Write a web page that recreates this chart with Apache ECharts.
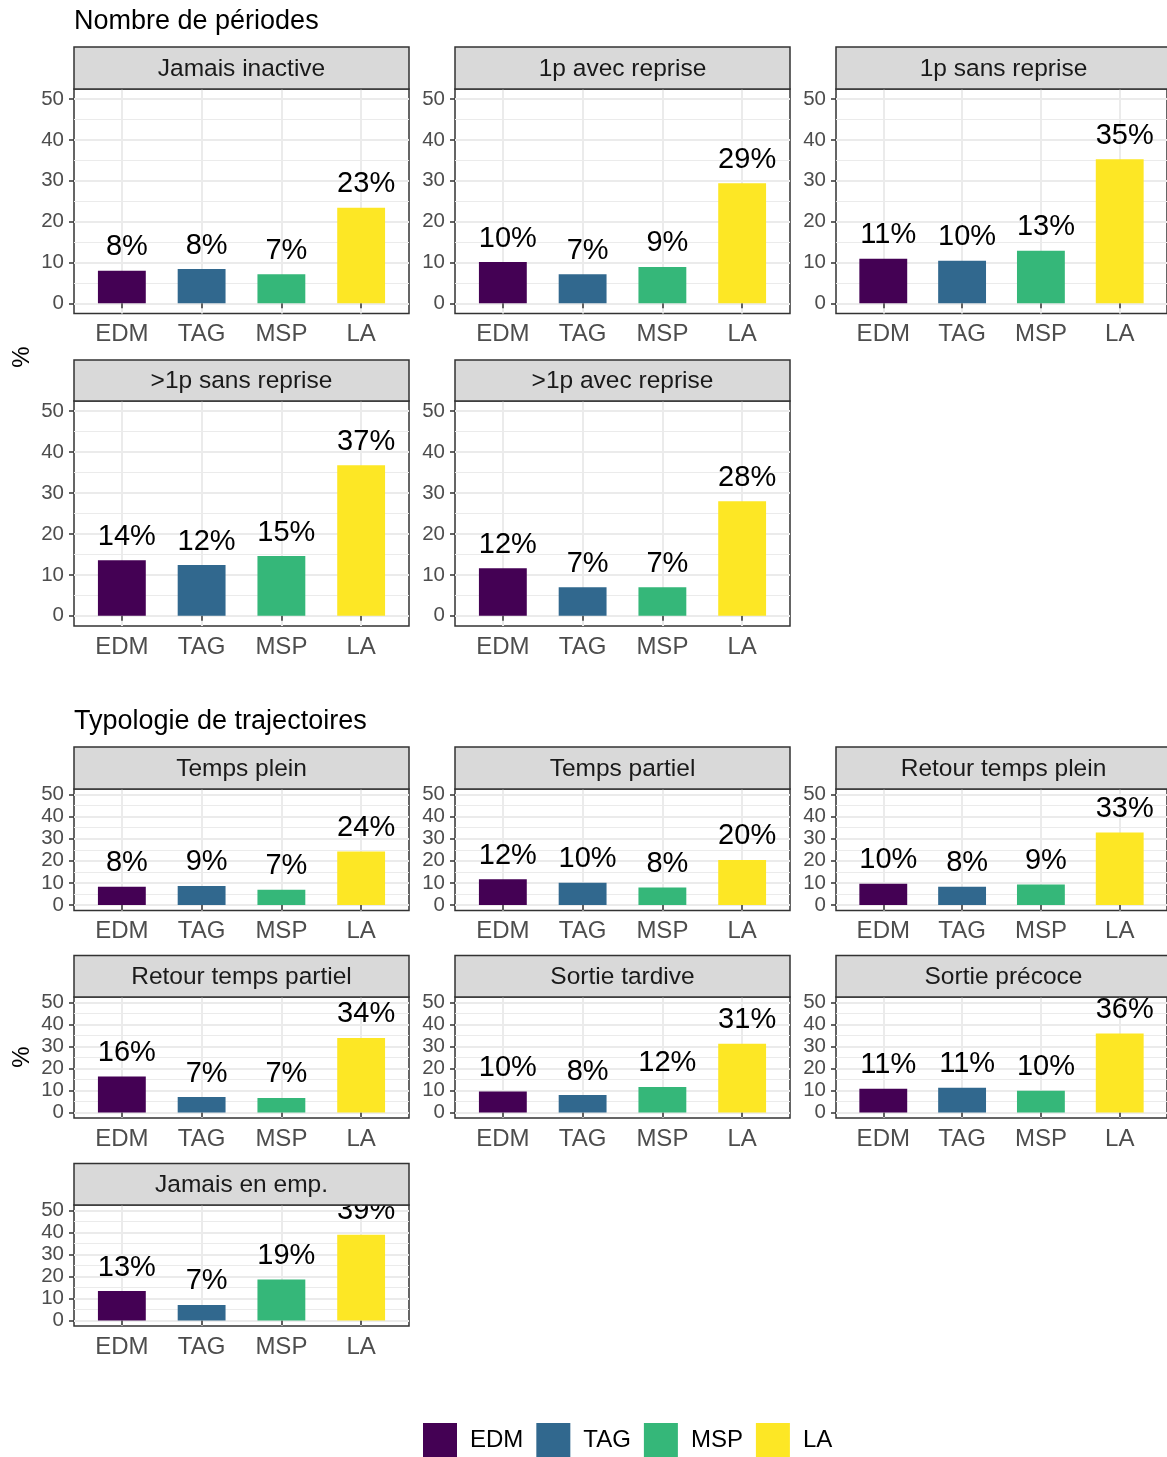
<!DOCTYPE html>
<html>
<head>
<meta charset="utf-8">
<script src="https://cdn.jsdelivr.net/npm/echarts@6/dist/echarts.min.js"></script>
<style>
  html, body { margin: 0; padding: 0; background: #fff; }
  #chart { width: 1167px; height: 1457px; }
</style>
</head>
<body>
<div id="chart"></div>
<script>
// Groups shown on every panel
const categories = ['EDM', 'TAG', 'MSP', 'LA'];
const groupColors = ['#440154', '#31688E', '#35B779', '#FDE725'];

// Y axis breaks (percent)
const yTicks = [0, 10, 20, 30, 40, 50];
const yMinorTicks = [5, 15, 25, 35, 45];

// Section 1: number of inactivity periods
const periodesTitle = 'Nombre de périodes';
const periodesPanels = ['Jamais inactive', '1p avec reprise', '1p sans reprise', '>1p sans reprise', '>1p avec reprise'];
const periodesEDM = [8.0, 10.1, 10.9, 13.6, 11.6];
const periodesTAG = [8.4, 7.1, 10.4, 12.4, 7.0];
const periodesMSP = [7.1, 8.9, 12.9, 14.6, 7.0];
const periodesLA  = [23.4, 29.4, 35.3, 36.8, 28.0];

// Section 2: trajectory typology
const trajTitle = 'Typologie de trajectoires';
const trajPanels = ['Temps plein', 'Temps partiel', 'Retour temps plein', 'Retour temps partiel', 'Sortie tardive', 'Sortie précoce', 'Jamais en emp.'];
const trajEDM = [8.3, 11.6, 9.6, 16.4, 9.6, 10.8, 13.4];
const trajTAG = [8.6, 10.1, 8.3, 7.0, 7.9, 11.2, 7.1];
const trajMSP = [6.9, 7.9, 9.3, 6.6, 11.6, 9.9, 18.6];
const trajLA  = [24.2, 20.4, 32.8, 33.9, 31.2, 35.9, 39.0];

// ---- layout ----
const FONT = '"Liberation Sans", Arial, Helvetica, sans-serif';
const colLeft = [74, 455, 836];
const panelW = 335;
const xMin = 0.4, xMax = 4.6;
const barW = 0.6 * panelW / (xMax - xMin);
const section1Rows = [
  { strip: 47, top: 89, bottom: 313.5 },
  { strip: 360, top: 401, bottom: 626 }
];
const section2Rows = [
  { strip: 747, top: 789, bottom: 910.5 },
  { strip: 955.5, top: 997, bottom: 1118 },
  { strip: 1163.5, top: 1205, bottom: 1326 }
];

const panels = [];
periodesPanels.forEach((name, i) => {
  const r = section1Rows[Math.floor(i / 3)];
  panels.push({ name, x: colLeft[i % 3], row: r,
    values: [periodesEDM[i], periodesTAG[i], periodesMSP[i], periodesLA[i]] });
});
trajPanels.forEach((name, i) => {
  const r = section2Rows[Math.floor(i / 3)];
  panels.push({ name, x: colLeft[i % 3], row: r,
    values: [trajEDM[i], trajTAG[i], trajMSP[i], trajLA[i]] });
});

const option = {
  animation: false,
  textStyle: { fontFamily: FONT },
  grid: [], xAxis: [], yAxis: [], series: [],
  graphic: [],
  legend: {
    left: 423, top: 1423, padding: 0,
    itemWidth: 34, itemHeight: 34, itemGap: 13,
    icon: 'rect',
    selectedMode: false,
    data: categories,
    textStyle: { fontSize: 24, color: '#000', fontFamily: FONT, padding: [0, 0, 0, 8] }
  }
};

panels.forEach((p, i) => {
  const h = p.row.bottom - p.row.top;
  option.grid.push({
    left: p.x, top: p.row.top, width: panelW, height: h,
    show: true, backgroundColor: '#fff', borderColor: '#333333', borderWidth: 1.5
  });
  option.xAxis.push({
    gridIndex: i, type: 'value', min: xMin, max: xMax,
    axisLine: { show: false },
    axisTick: { show: true, customValues: [1, 2, 3, 4], length: 5, lineStyle: { color: '#333333', width: 1.5 } },
    axisLabel: { customValues: [1, 2, 3, 4], formatter: v => categories[Math.round(v) - 1],
      color: '#4D4D4D', fontSize: 24, margin: 9, fontFamily: FONT },
    splitLine: { show: true, lineStyle: { color: '#EBEBEB', width: 2 } }
  });
  option.yAxis.push({
    gridIndex: i, type: 'value', min: -2.5, max: 52.5,
    axisLine: { show: false },
    axisTick: { show: true, customValues: yTicks, length: 5, lineStyle: { color: '#333333', width: 1.5 } },
    axisLabel: { customValues: yTicks, color: '#4D4D4D', fontSize: 20.5, margin: 10, fontFamily: FONT },
    splitLine: { show: true, lineStyle: { color: '#EBEBEB', width: 2 } }
  });
  option.yAxis.push({
    gridIndex: i, type: 'value', min: -2.5, max: 52.5,
    axisLine: { show: false },
    axisTick: { show: false, customValues: yMinorTicks },
    axisLabel: { show: false, customValues: yMinorTicks },
    splitLine: { show: true, lineStyle: { color: '#EBEBEB', width: 1 } }
  });
  categories.forEach((c, k) => {
    option.series.push({
      type: 'bar', name: c,
      xAxisIndex: i, yAxisIndex: 2 * i,
      barWidth: barW, barGap: '-100%',
      itemStyle: { color: groupColors[k] },
      label: {
        show: true, position: 'top', distance: 9, offset: [5, 0],
        fontSize: 29, color: '#000', fontFamily: FONT, lineHeight: 29,
        formatter: d => Math.round(d.value[1]) + '%'
      },
      data: [[k + 1, p.values[k]]]
    });
  });
  // facet strip
  option.graphic.push({
    type: 'rect', z: 50,
    shape: { x: p.x, y: p.row.strip, width: panelW, height: p.row.top - p.row.strip },
    style: { fill: '#D9D9D9', stroke: '#333333', lineWidth: 1.5 }
  });
  option.graphic.push({
    type: 'text', z: 51,
    x: p.x + panelW / 2, y: (p.row.strip + p.row.top) / 2 + 1,
    style: { text: p.name, fill: '#1A1A1A', fontSize: 24.5, fontFamily: FONT, align: 'center', verticalAlign: 'middle' }
  });
});

// section titles
[[periodesTitle, 22], [trajTitle, 722]].forEach(([t, y]) => {
  option.graphic.push({
    type: 'text', z: 51, x: 74, y: y,
    style: { text: t, fill: '#000', fontSize: 27, fontFamily: FONT, align: 'left', verticalAlign: 'middle' }
  });
});
// y axis titles
[357, 1057].forEach(y => {
  option.graphic.push({
    type: 'text', z: 51, x: 22, y: y, rotation: Math.PI / 2,
    style: { text: '%', fill: '#000', fontSize: 24, fontFamily: FONT, align: 'center', verticalAlign: 'middle' }
  });
});

const chart = echarts.init(document.getElementById('chart'), null, { renderer: 'canvas' });
chart.setOption(option);
</script>
</body>
</html>
